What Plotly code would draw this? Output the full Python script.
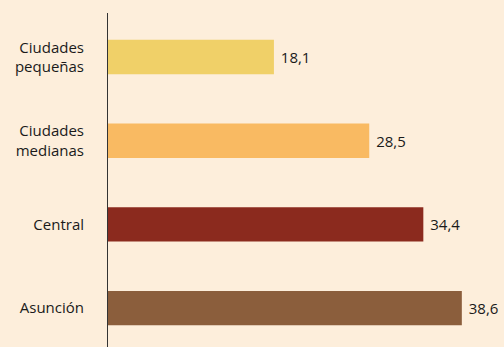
import plotly.graph_objects as go

categories = ["Ciudades<br>pequeñas", "Ciudades<br>medianas", "Central", "Asunción"]
values = [18.1, 28.5, 34.4, 38.6]
colors = ["#F0D068", "#F9BA62", "#8B2A1E", "#8B5E3C"]
BG = "#FDEEDB"

fig = go.Figure(go.Bar(
    y=categories,
    x=values,
    orientation="h",
    marker=dict(color=colors, line=dict(width=0)),
    width=0.41,
    texttemplate=" %{x:.1f}",
    textposition="outside",
    textfont=dict(size=15, color="#1a1a1a", family="Open Sans"),
    cliponaxis=False,
))

fig.update_layout(
    width=504, height=347,
    margin=dict(l=108, r=0, t=13, b=0, autoexpand=False),
    paper_bgcolor=BG,
    plot_bgcolor=BG,
    separators=",.",
    showlegend=False,
    font=dict(family="Open Sans", size=15, color="#1a1a1a"),
)
fig.update_xaxes(range=[0, 43.2], visible=False, showgrid=False, zeroline=False, automargin=False)
fig.update_yaxes(
    range=[3.464, -0.526],
    showline=True, linecolor="#333333", linewidth=1,
    showgrid=False, zeroline=False, automargin=False,
    ticks="", ticklabelstandoff=20,
    tickfont=dict(size=15, family="Open Sans", color="#1a1a1a"),
)

fig.write_html(
    "out.html",
    config={"displayModeBar": False},
    post_script="document.body.style.margin='0';document.body.style.background='" + BG + "';document.body.style.overflow='hidden';",
)
